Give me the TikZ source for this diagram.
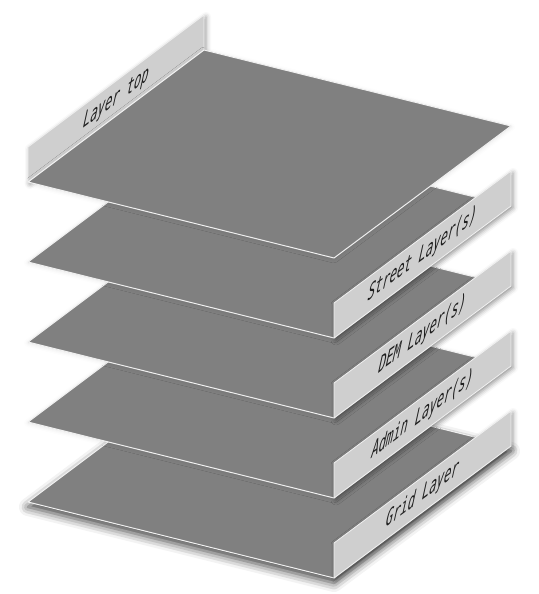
\documentclass[tikz,border=0pt]{standalone}
\usepackage{fontspec}
\newfontfamily\panelfont{DejaVu Sans Mono}
\usetikzlibrary{calc,shadows.blur}
\definecolor{planegray}{RGB}{128,128,128}
\definecolor{panelgray}{RGB}{207,207,207}
\definecolor{edgewhite}{RGB}{240,240,240}
\definecolor{textdark}{RGB}{30,30,30}
\begin{document}
\begin{tikzpicture}[x=1pt,y=1pt,
  plane/.style={fill=planegray, draw=edgewhite, line width=1pt, line join=round,
    blur shadow={shadow xshift=0pt, shadow yshift=-1pt, shadow blur radius=4pt, shadow opacity=10}},
  groundplane/.style={fill=planegray, draw=edgewhite, line width=1pt, line join=round,
    blur shadow={shadow xshift=0pt, shadow yshift=-5pt, shadow blur radius=9pt, shadow opacity=75}},
  panel/.style={fill=panelgray, draw=edgewhite, line width=0.8pt, line join=round,
    blur shadow={shadow xshift=2pt, shadow yshift=-2pt, shadow blur radius=5pt, shadow opacity=40}},
  paneltext/.style={font=\panelfont\itshape\fontsize{15}{15}\selectfont, text=textdark, inner sep=0pt, transform shape}
]
\useasboundingbox (0,-594) rectangle (538,0);
% lower layers, from the bottom up
\foreach \i/\t/\st in {4/Grid Layer/groundplane, 3/Admin Layer(s)/plane, 2/DEM Layer(s)/plane, 1/Street Layer(s)/plane}{
  \pgfmathsetmacro\d{80*\i}
  \coordinate (L\i) at (28,{-182-\d});
  \coordinate (B\i) at (204,{-50-\d});
  \coordinate (R\i) at (511,{-126-\d});
  \coordinate (F\i) at (334,{-258-\d});
  \path[\st] (L\i) -- (B\i) -- (R\i) -- (F\i) -- cycle;
  \path[panel] (F\i) -- (R\i) -- ($(R\i)+(0,35)$) -- ($(F\i)+(0,35)$) -- cycle;
  \begin{scope}[shift={($(F\i)!0.5!(R\i)+(0,17.5)$)}, cm={0.8016,0.5978,0.2,1.5,(0,0)}]
    \node[paneltext] (T\i) at (0,0) {\t};
  \end{scope}
}
% top layer
\coordinate (L0) at (28,-182);
\coordinate (B0) at (204,-50);
\coordinate (R0) at (511,-126);
\coordinate (F0) at (334,-258);
\path[panel] (L0) -- (B0) -- ($(B0)+(0,35)$) -- ($(L0)+(0,35)$) -- cycle;
\begin{scope}[shift={($(L0)!0.5!(B0)+(0,17.5)$)}, cm={0.8016,0.5978,0.2,1.5,(0,0)}]
  \node[paneltext] (T0) at (0,0) {Layer top};
\end{scope}
\path[plane] (L0) -- (B0) -- (R0) -- (F0) -- cycle;
\end{tikzpicture}
\end{document}
